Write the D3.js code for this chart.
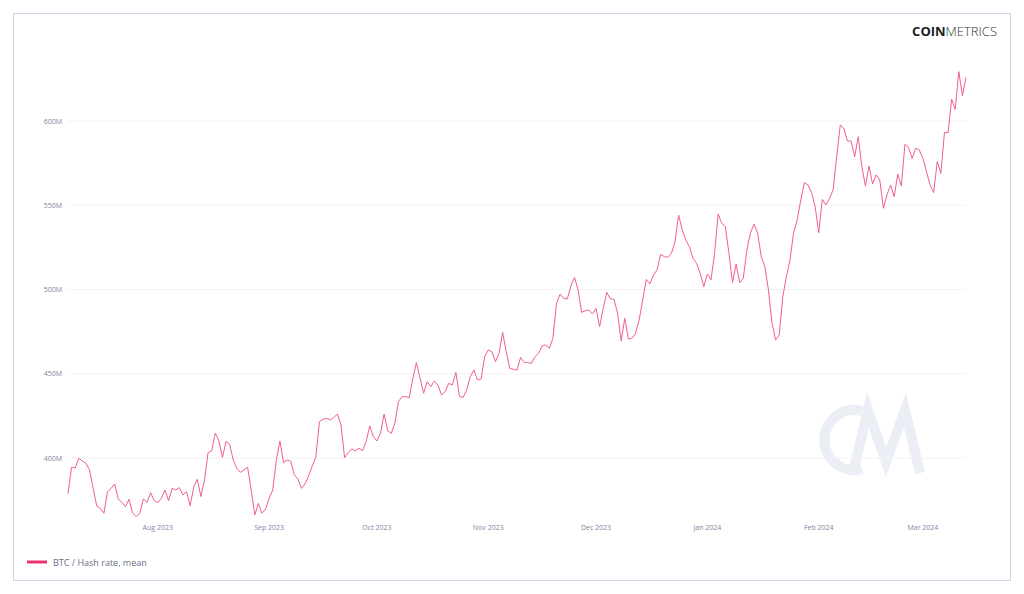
<!DOCTYPE html>
<html>
<head>
<meta charset="utf-8">
<script src="https://cdn.jsdelivr.net/npm/d3@7"></script>
<style>
  body { margin: 0; background: #fff; font-family: "Open Sans", "Noto Sans", sans-serif; }
</style>
</head>
<body>
<svg id="chart" width="1024" height="594"></svg>
<script>
// daily values, starting 2023-07-07 (millions)
var startDate = new Date(2023, 6, 7);
var hashRate = [
  379.0, 394.5, 394.1, 399.8, 398.2, 396.9, 392.9, 382.0, 371.5, 370.1,
  367.2, 380.0, 382.0, 384.6, 375.5, 373.7, 371.1, 375.5, 367.2, 365.2,
  367.2, 375.7, 373.7, 379.4, 374.7, 373.5, 376.1, 381.0, 374.7, 382.0,
  381.0, 382.4, 378.1, 380.0, 371.7, 382.6, 387.4, 377.1, 387.0, 403.2,
  404.2, 414.7, 410.3, 400.4, 409.9, 408.1, 398.8, 393.9, 391.5, 392.9,
  394.5, 381.0, 366.2, 373.1, 367.2, 369.6, 376.1, 381.0, 398.8, 410.1,
  397.2, 398.8, 398.2, 389.9, 387.6, 382.0, 384.6, 389.5, 395.3, 400.4,
  421.6, 423.0, 423.6, 422.6, 424.1, 426.1, 419.6, 400.2, 403.2, 405.4,
  404.2, 405.8, 404.4, 409.7, 419.0, 412.7, 410.1, 414.7, 426.1, 416.2,
  414.7, 420.6, 433.4, 436.4, 436.4, 435.8, 447.3, 456.6, 447.3, 438.4,
  445.3, 442.3, 445.7, 443.3, 437.4, 439.4, 444.3, 443.3, 450.8, 436.4,
  436.0, 440.4, 448.3, 452.2, 446.3, 446.9, 460.1, 464.1, 463.1, 457.2,
  462.1, 474.6, 463.1, 453.2, 452.6, 452.2, 459.7, 456.8, 456.6, 456.2,
  460.1, 462.1, 466.5, 467.1, 465.1, 471.0, 491.8, 497.3, 494.7, 494.4,
  502.1, 507.2, 499.7, 486.4, 487.4, 487.8, 485.5, 488.8, 478.0, 488.8,
  498.3, 494.4, 494.2, 485.9, 469.4, 482.9, 470.6, 471.0, 474.0, 481.9,
  493.8, 506.0, 503.3, 508.6, 511.6, 520.9, 519.5, 519.1, 521.5, 528.4,
  544.2, 535.3, 529.4, 525.4, 518.5, 515.5, 509.6, 501.7, 509.2, 505.7,
  521.5, 544.8, 539.3, 537.3, 521.5, 504.1, 515.1, 504.1, 506.6, 523.5,
  533.7, 538.7, 533.4, 519.5, 513.6, 499.7, 480.0, 470.0, 473.0, 495.8,
  507.6, 517.5, 533.7, 541.3, 553.1, 563.4, 562.0, 557.5, 549.2, 533.7,
  553.5, 550.2, 554.1, 559.1, 578.8, 597.6, 595.6, 588.1, 588.1, 578.8,
  590.7, 572.9, 561.4, 573.3, 562.6, 568.0, 565.0, 548.2, 556.1, 562.0,
  555.1, 568.5, 561.4, 586.2, 584.4, 577.8, 583.8, 582.8, 577.8, 569.9,
  562.0, 557.5, 575.9, 568.9, 593.1, 593.1, 612.9, 606.9, 629.3, 615.0,
  625.9
];
var yTicks = [400, 450, 500, 550, 600];
var xTicks = [
  new Date(2023, 7, 1), new Date(2023, 8, 1), new Date(2023, 9, 1),
  new Date(2023, 10, 1), new Date(2023, 11, 1), new Date(2024, 0, 1),
  new Date(2024, 1, 1), new Date(2024, 2, 1)
];
var seriesName = "BTC / Hash rate, mean";

var data = hashRate.map(function(v, i) {
  return { date: d3.timeDay.offset(startDate, i), value: v };
});

var svg = d3.select("#chart");
var left = 68, right = 966;

svg.append("rect")
    .attr("x", 13.5).attr("y", 13.5)
    .attr("width", 997).attr("height", 567)
    .attr("fill", "#fff")
    .attr("stroke", "#d4d2e6");

var x = d3.scaleTime()
    .domain([startDate, data[data.length - 1].date])
    .range([left, right]);

var y = d3.scaleLinear()
    .domain([400, 600])
    .range([458, 121]);

// watermark
var wm = svg.append("g").attr("fill", "none").attr("stroke", "#eceef5").attr("stroke-width", 10);
wm.append("path").attr("d", "M862,411 A30,30 0 1,0 862,469");
wm.append("path").attr("d", "M853,473 L868,410 L886,462 L905,410 L920,473").attr("stroke-linejoin", "miter");

// gridlines
svg.append("g")
  .selectAll("line")
  .data(yTicks)
  .join("line")
    .attr("x1", left).attr("x2", right)
    .attr("y1", function(d) { return y(d); })
    .attr("y2", function(d) { return y(d); })
    .attr("stroke", "#f3f3f6");

// y axis labels
svg.append("g")
  .selectAll("text")
  .data(yTicks)
  .join("text")
    .attr("x", 62)
    .attr("y", function(d) { return y(d) + 2.5; })
    .attr("text-anchor", "end")
    .attr("font-size", 7)
    .attr("fill", "#7f84a3")
    .text(function(d) { return d + "M"; });

// x axis labels
var fmt = d3.timeFormat("%b %Y");
svg.append("g")
  .selectAll("text")
  .data(xTicks)
  .join("text")
    .attr("x", function(d) { return x(d); })
    .attr("y", 530)
    .attr("text-anchor", "middle")
    .attr("font-size", 7)
    .attr("fill", "#7f84a3")
    .text(fmt);

// the line
var line = d3.line()
    .x(function(d) { return x(d.date); })
    .y(function(d) { return y(d.value); });

svg.append("path")
    .datum(data)
    .attr("d", line)
    .attr("fill", "none")
    .attr("stroke", "#f25f8a")
    .attr("stroke-width", 1);

// logo
var logo = svg.append("text")
    .attr("x", 997).attr("y", 36)
    .attr("text-anchor", "end")
    .attr("font-size", 13)
    .attr("fill", "#1b1b22");
logo.append("tspan").attr("font-weight", "bold").text("COIN");
logo.append("tspan").attr("font-weight", 300).attr("fill", "#333").text("METRICS");

// legend
svg.append("line")
    .attr("x1", 27).attr("x2", 47)
    .attr("y1", 562).attr("y2", 562)
    .attr("stroke", "#e8336a")
    .attr("stroke-width", 3);
svg.append("text")
    .attr("x", 53).attr("y", 565.5)
    .attr("font-size", 9)
    .attr("fill", "#6b6f8a")
    .text(seriesName);
</script>
</body>
</html>
